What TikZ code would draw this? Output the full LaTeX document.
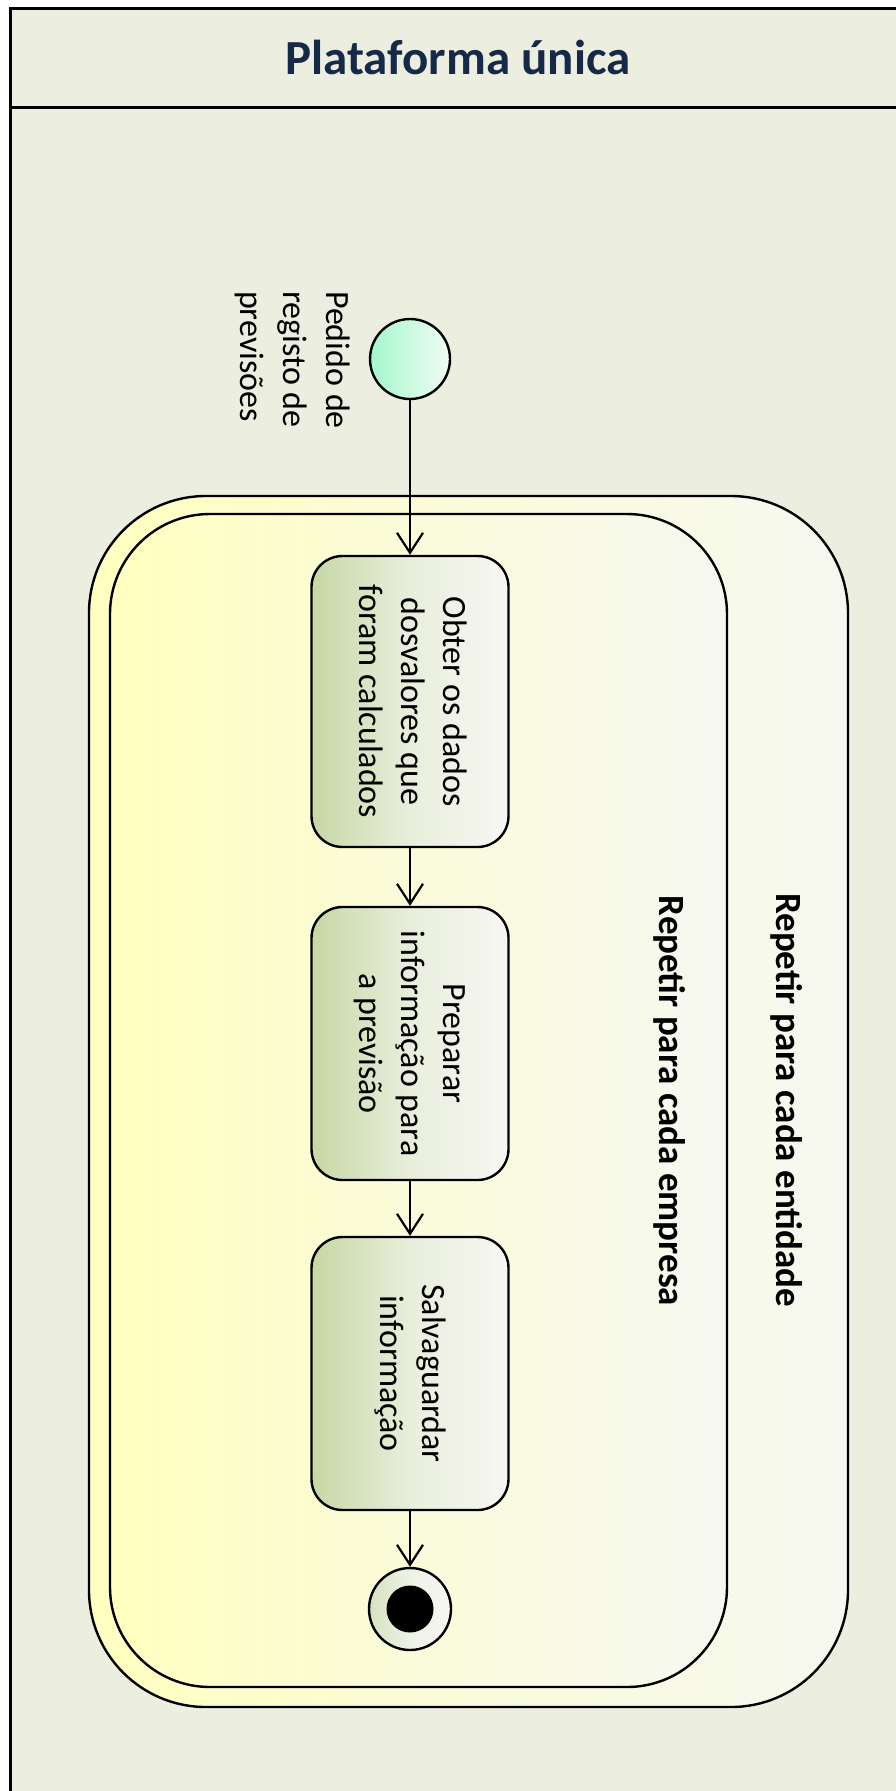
\documentclass[tikz,border=0pt]{standalone}
\usepackage{fontspec}
\setmainfont{Carlito}
\usepackage{graphicx}
\usetikzlibrary{arrows.meta}

\definecolor{lanebg}{RGB}{236,239,223}
\definecolor{titleblue}{RGB}{22,41,72}
\definecolor{loopyellow}{RGB}{255,255,192}
\definecolor{loopmid}{RGB}{250,251,218}
\definecolor{loopwhite}{RGB}{246,248,240}
\definecolor{actgreen}{RGB}{198,216,164}
\definecolor{actmid}{RGB}{233,238,220}
\definecolor{actwhite}{RGB}{246,247,242}
\definecolor{finalgreen}{RGB}{214,226,192}
\definecolor{finalmid}{RGB}{238,242,230}
\definecolor{startgreen}{RGB}{164,247,204}
\definecolor{startwhite}{RGB}{242,252,244}

\begin{document}
\begin{tikzpicture}[x=1pt,y=-1pt,
  loopbox/.style={draw=black, line width=2.4pt, rounded corners=#1, inner sep=0pt,
    left color=loopyellow, right color=loopwhite, middle color=loopmid},
  action/.style={draw=black, line width=2.4pt, rounded corners=31pt, inner sep=0pt,
    minimum width=197pt, left color=actgreen, right color=actwhite, middle color=actmid,
    font=\fontsize{34}{42}\selectfont},
  looplabel/.style={rotate=-90, font=\bfseries\fontsize{37}{44}\selectfont},
  flow/.style={draw=black, line width=2.2pt,
    -{Straight Barb[length=20pt,width=26pt,line width=2.2pt]}}
]
\useasboundingbox (0,0) rectangle (896,1791);

% swimlane
\fill[lanebg] (10,8) rectangle (900,1795);
\draw[line width=3pt] (900,8) -- (10,8) -- (10,1795);
\draw[line width=3pt] (10,107) -- (900,107);
\node[text=titleblue, font=\bfseries\fontsize{49}{59}\selectfont] (title) at (458,57) {Plataforma única};

% expansion regions
\node[loopbox=117pt, minimum width=759pt, minimum height=1211pt] (outerloop) at (468.5,1101.5) {};
\node[loopbox=100pt, minimum width=617pt, minimum height=1173pt] (innerloop) at (418.5,1100.5) {};
\node[looplabel] (lblent) at (787,1100) {Repetir para cada entidade};
\node[looplabel] (lblemp) at (670,1101) {Repetir para cada empresa};

% initial node and its label
\node[circle, draw=black, line width=2.4pt, minimum size=80pt, inner sep=0pt,
  left color=startgreen, right color=startwhite] (start) at (410,359) {};
\node[rotate=-90, align=left, font=\fontsize{34}{43}\selectfont] (startlbl) at (293,360)
  {Pedido de\\registo de\\previsões};

% actions
\node[action, minimum height=291pt] (a1) at (410,701.5)
  {\rotatebox{-90}{\begin{tabular}{@{}c@{}}Obter os dados\\dosvalores que\\foram calculados\end{tabular}}};
\node[action, minimum height=273pt] (a2) at (410,1043.5)
  {\rotatebox{-90}{\begin{tabular}{@{}c@{}}Preparar\\informação para\\a previsão\end{tabular}}};
\node[action, minimum height=273pt] (a3) at (410,1373.5)
  {\rotatebox{-90}{\begin{tabular}{@{}c@{}}Salvaguardar\\informação\end{tabular}}};

% final node
\node[circle, draw=black, line width=2.4pt, minimum size=82pt, inner sep=0pt,
  left color=finalgreen, right color=actwhite, middle color=finalmid] (final) at (410,1609) {};
\node[circle, fill=black, minimum size=47pt, inner sep=0pt] (finaldot) at (final.center) {};

% control flow
\draw[flow] (start) -- (a1);
\draw[flow] (a1) -- (a2);
\draw[flow] (a2) -- (a3);
\draw[flow] (a3) -- (final);
\end{tikzpicture}
\end{document}
